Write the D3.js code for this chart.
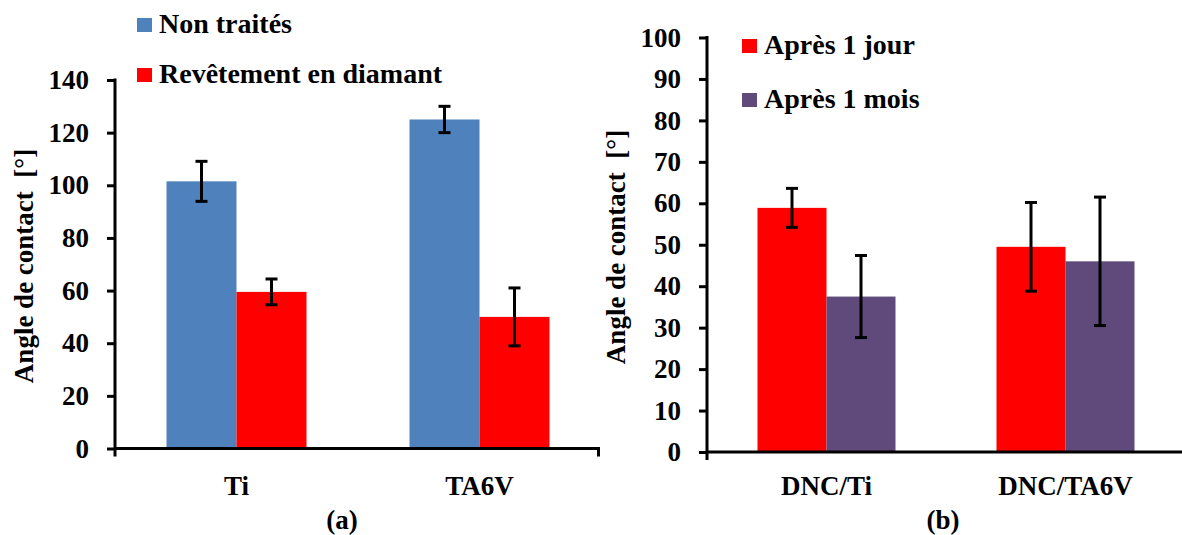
<!DOCTYPE html>
<html>
<head>
<meta charset="utf-8">
<script src="https://cdn.jsdelivr.net/npm/d3@7"></script>
<style>
  body { margin: 0; background: #fff; }
  svg { display: block; }
</style>
</head>
<body>
<div id="chart"></div>
<script>
// panel (a)
const categoriesA = ['Ti', 'TA6V'];
const seriesA = ['Non traités', 'Revêtement en diamant'];
const nonTraites = [101.5, 125];
const nonTraitesErr = [7.6, 5];
const diamant = [59.5, 50];
const diamantErr = [4.9, 11];
const ticksA = [0, 20, 40, 60, 80, 100, 120, 140];

// panel (b)
const categoriesB = ['DNC/Ti', 'DNC/TA6V'];
const seriesB = ['Après 1 jour', 'Après 1 mois'];
const jour = [58.9, 49.5];
const jourErr = [4.7, 10.7];
const mois = [37.5, 46];
const moisErr = [9.9, 15.5];
const ticksB = [0, 10, 20, 30, 40, 50, 60, 70, 80, 90, 100];

const FONT = "'Times New Roman', 'Liberation Serif', Tinos, 'DejaVu Serif', serif";
const W = 1182, H = 535;
const svg = d3.select('#chart').append('svg')
  .attr('width', W).attr('height', H);

function label(sel, size) {
  return sel.style('font-family', FONT)
    .style('font-weight', 'bold')
    .style('font-size', size + 'px')
    .style('fill', '#000');
}

function drawPanel(cfg) {
  const g = svg.append('g');
  const y = d3.scaleLinear().domain([0, cfg.max]).range([cfg.y0, cfg.y1]);
  const x = d3.scaleBand().domain(cfg.categories).range(cfg.xRange);
  const x1 = d3.scaleBand().domain(cfg.series).range([0, cfg.pairW]);
  const off = (x.bandwidth() - cfg.pairW) / 2;

  const rows = [];
  cfg.categories.forEach((c, i) => {
    cfg.series.forEach((s, j) => {
      rows.push({ c, s, v: cfg.values[j][i], e: cfg.errors[j][i], color: cfg.colors[j] });
    });
  });

  g.selectAll('rect.bar')
    .data(rows)
    .join('rect')
    .attr('class', 'bar')
    .attr('x', d => x(d.c) + off + x1(d.s))
    .attr('y', d => y(d.v))
    .attr('width', x1.bandwidth())
    .attr('height', d => y(0) - y(d.v))
    .attr('fill', d => d.color);

  // error bars
  const eb = g.selectAll('g.err')
    .data(rows)
    .join('g')
    .attr('class', 'err')
    .attr('transform', d => `translate(${x(d.c) + off + x1(d.s) + x1.bandwidth() / 2},0)`);
  eb.append('line')
    .attr('y1', d => y(d.v + d.e)).attr('y2', d => y(d.v - d.e))
    .attr('stroke', '#000').attr('stroke-width', 3);
  eb.append('line')
    .attr('x1', -6).attr('x2', 6)
    .attr('y1', d => y(d.v + d.e)).attr('y2', d => y(d.v + d.e))
    .attr('stroke', '#000').attr('stroke-width', 3);
  eb.append('line')
    .attr('x1', -6).attr('x2', 6)
    .attr('y1', d => y(d.v - d.e)).attr('y2', d => y(d.v - d.e))
    .attr('stroke', '#000').attr('stroke-width', 3);

  // y axis
  const yAxis = d3.axisLeft(y).tickValues(cfg.ticks).tickSize(8).tickPadding(18);
  const ya = g.append('g')
    .attr('transform', `translate(${cfg.xRange[0]},0)`)
    .call(yAxis);
  ya.select('.domain').remove();
  ya.append('line')
    .attr('y1', cfg.y1 - 1.5).attr('y2', cfg.y0 + 8)
    .attr('stroke', '#000').attr('stroke-width', 3);
  ya.selectAll('.tick line').attr('stroke', '#000').attr('stroke-width', 3);
  label(ya.selectAll('.tick text'), 27);

  // x axis
  g.append('line')
    .attr('x1', cfg.xRange[0]).attr('x2', cfg.xEnd)
    .attr('y1', y(0)).attr('y2', y(0))
    .attr('stroke', '#000').attr('stroke-width', 3);
  if (cfg.endTick) {
    g.append('line')
      .attr('x1', cfg.xEnd - 1.5).attr('x2', cfg.xEnd - 1.5)
      .attr('y1', y(0)).attr('y2', y(0) + 8)
      .attr('stroke', '#000').attr('stroke-width', 3);
  }

  label(g.selectAll('text.cat')
    .data(cfg.categories)
    .join('text')
    .attr('class', 'cat')
    .attr('x', d => x(d) + x.bandwidth() / 2)
    .attr('y', 495)
    .attr('text-anchor', 'middle')
    .text(d => d), 27);

  label(g.append('text')
    .attr('x', cfg.tagX).attr('y', 529)
    .attr('text-anchor', 'middle')
    .text(cfg.tag), 27);

  label(g.append('text')
    .attr('transform', `translate(${cfg.titleX},${cfg.titleY}) rotate(-90)`)
    .attr('text-anchor', 'middle')
    .style('white-space', 'pre')
    .text('Angle de contact  [°]'), 27);

  // legend
  const lg = g.selectAll('g.leg')
    .data(cfg.series)
    .join('g')
    .attr('class', 'leg')
    .attr('transform', (d, i) => `translate(${cfg.legX},${cfg.legY + i * cfg.legStep})`);
  lg.append('rect')
    .attr('x', 0).attr('y', -15)
    .attr('width', 15).attr('height', 14)
    .attr('fill', (d, i) => cfg.colors[i]);
  label(lg.append('text')
    .attr('x', 22).attr('y', 0)
    .text(d => d), 28);
}

drawPanel({
  categories: categoriesA, series: seriesA,
  values: [nonTraites, diamant], errors: [nonTraitesErr, diamantErr],
  colors: ['#4F81BD', '#FF0000'],
  max: 140, ticks: ticksA,
  y0: 448.5, y1: 80,
  xRange: [115, 601], xEnd: 600, endTick: true, pairW: 140,
  tag: '(a)', tagX: 342,
  titleX: 33, titleY: 266,
  legX: 137, legY: 33, legStep: 50
});

drawPanel({
  categories: categoriesB, series: seriesB,
  values: [jour, mois], errors: [jourErr, moisErr],
  colors: ['#FF0000', '#604A7B'],
  max: 100, ticks: ticksB,
  y0: 452, y1: 37.5,
  xRange: [707, 1185], xEnd: 1182, endTick: false, pairW: 138,
  tag: '(b)', tagX: 943,
  titleX: 625, titleY: 247,
  legX: 742, legY: 54, legStep: 54
});
</script>
</body>
</html>
